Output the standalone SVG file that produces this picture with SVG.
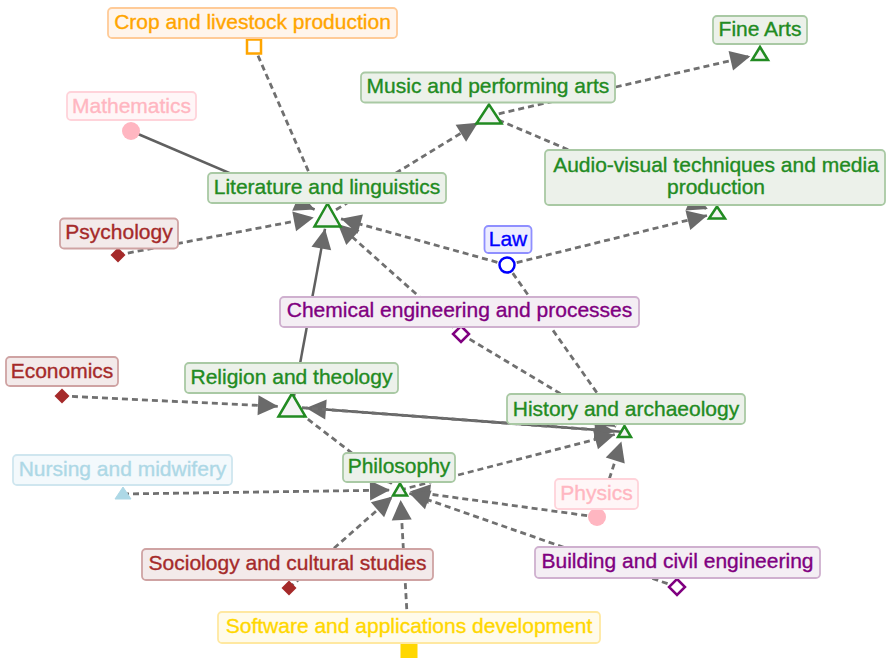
<svg xmlns="http://www.w3.org/2000/svg" width="886" height="659" viewBox="0 0 886 659">
  <defs>
    <style>
      .edge { fill: none; stroke: #707070; stroke-width: 2.8; marker-end: url(#arrow); }
      .dash { stroke-dasharray: 6 4; }
      .solid { stroke: #606060; stroke-width: 2.5; }
      .lbl { font-family: "Liberation Sans", Arial, sans-serif; font-size: 21px; text-anchor: middle; stroke-width: 0.35; }
      .box { stroke-width: 1.8; filter: url(#soft); }
      .green text { fill: #228B22; stroke: #228B22; } .green .box { fill: #ecf1ea; stroke: #a9c9a4; }
      .orange text { fill: #FFA500; stroke: #FFA500; } .orange .box { fill: #fff5ec; stroke: #ffcb98; }
      .pink text { fill: #FFB6C1; stroke: #FFB6C1; } .pink .box { fill: #fff6f7; stroke: #ffd3da; }
      .brown text { fill: #A52A2A; stroke: #A52A2A; } .brown .box { fill: #f3eaea; stroke: #cfa3a3; }
      .blue text { fill: #0000FF; stroke: #0000FF; } .blue .box { fill: #ececff; stroke: #8f8fff; }
      .purple text { fill: #800080; stroke: #800080; } .purple .box { fill: #f4eef4; stroke: #cfb0cf; }
      .lblue text { fill: #ADD8E6; stroke: #ADD8E6; } .lblue .box { fill: #f3f9fc; stroke: #cfe6ef; }
      .gold text { fill: #FFD700; stroke: #FFD700; } .gold .box { fill: #fffbea; stroke: #ffe8a0; }
      .tri { fill: #f4f4f4; stroke: #228B22; stroke-width: 2.5; stroke-linejoin: miter; }
    </style>
    <marker id="arrow" markerUnits="userSpaceOnUse" markerWidth="22" markerHeight="22" refX="20" refY="10" orient="auto" overflow="visible">
      <path d="M0,0 L20,10 L0,20 Z" fill="#6a6a6a"/>
    </marker>
    <filter id="soft" x="-10%" y="-30%" width="120%" height="160%">
      <feGaussianBlur stdDeviation="0.7"/>
    </filter>
  </defs>

  <rect width="886" height="659" fill="#ffffff"/>

  <!-- connectors -->
  <g id="connectors">
    <line class="edge dash" x1="254" y1="46.5" x2="321.9" y2="202.2"/>
    <line class="edge solid" x1="131" y1="131" x2="314.6" y2="209.5"/>
    <line class="edge dash" x1="118" y1="255" x2="313.8" y2="217.6"/>
    <line class="edge solid" x1="292" y1="407" x2="325" y2="228.8"/>
    <line class="edge dash" x1="507" y1="265" x2="341" y2="218.8"/>
    <line class="edge dash" x1="461" y1="334" x2="338" y2="224.3"/>
    <line class="edge dash" x1="327.5" y1="215" x2="477.9" y2="122.8"/>
    <line class="edge dash" x1="489" y1="116" x2="750.3" y2="56.2"/>
    <line class="edge dash" x1="489" y1="116" x2="707.8" y2="209.1"/>
    <line class="edge dash" x1="507" y1="265" x2="707.3" y2="215.4"/>
    <line class="edge dash" x1="507" y1="265" x2="618.75" y2="423.8"/>
    <line class="edge dash" x1="461" y1="334" x2="615.9" y2="426.9"/>
    <line class="edge dash" x1="62" y1="396" x2="278" y2="406.3"/>
    <line class="edge solid" x1="624.5" y1="432" x2="306" y2="408"/>
    <line class="edge dash" x1="292" y1="407" x2="614.5" y2="431.25"/>
    <line class="edge dash" x1="292" y1="407" x2="392.1" y2="483.9"/>
    <line class="edge dash" x1="123" y1="494" x2="390" y2="490.1"/>
    <line class="edge dash" x1="289" y1="588" x2="392.5" y2="496.6"/>
    <line class="edge dash" x1="409" y1="649" x2="400.6" y2="500"/>
    <line class="edge dash" x1="597" y1="517" x2="409.9" y2="491.4"/>
    <line class="edge dash" x1="677" y1="587" x2="409.4" y2="493.3"/>
    <line class="edge dash" x1="400" y1="490" x2="614.8" y2="434.5"/>
    <line class="edge dash" x1="597" y1="517" x2="621.4" y2="441.5"/>
  </g>

  <!-- nodes -->
  <g id="node-crop" class="orange">
    <rect x="247" y="39.5" width="14" height="14" style="fill:#ffffff;stroke:#FFA500;stroke-width:2.5"/>
    <rect class="box" x="108" y="8" width="289" height="30" rx="4"/>
    <text class="lbl" x="252.5" y="29">Crop and livestock production</text>
  </g>

  <g id="node-mathematics" class="pink">
    <circle cx="131" cy="131" r="9" fill="#FFB6C1"/>
    <rect class="box" x="67" y="92" width="129" height="28" rx="4"/>
    <text class="lbl" x="131.5" y="112.5">Mathematics</text>
  </g>

  <g id="node-literature" class="green">
    <polygon class="tri" points="327.5,203.5 314.5,226.5 340.5,226.5"/>
    <rect class="box" x="208" y="173" width="238" height="30" rx="4"/>
    <text class="lbl" x="327" y="193.5">Literature and linguistics</text>
  </g>

  <g id="node-psychology" class="brown">
    <polygon points="118,247.5 125.5,255 118,262.5 110.5,255" fill="#A52A2A"/>
    <rect class="box" x="60" y="218.5" width="118" height="30" rx="4"/>
    <text class="lbl" x="119" y="239">Psychology</text>
  </g>

  <g id="node-music" class="green">
    <polygon class="tri" points="489,104.5 476.5,123.5 501.5,123.5"/>
    <rect class="box" x="361" y="72.5" width="254" height="30" rx="4"/>
    <text class="lbl" x="488" y="93">Music and performing arts</text>
  </g>

  <g id="node-fine-arts" class="green">
    <polygon class="tri" points="760,47 752,60 768,60"/>
    <rect class="box" x="713" y="16" width="94" height="28" rx="4"/>
    <text class="lbl" x="760" y="35.5">Fine Arts</text>
  </g>

  <g id="node-audio-visual" class="green">
    <polygon class="tri" points="717,206.5 709,218.5 725,218.5"/>
    <rect class="box" x="545" y="150" width="340" height="55" rx="4"/>
    <text class="lbl" x="716" y="171.5">Audio-visual techniques and media</text>
    <text class="lbl" x="716" y="194">production</text>
  </g>

  <g id="node-law" class="blue">
    <circle cx="507" cy="265" r="7.5" fill="#ffffff" stroke="#0000FF" stroke-width="2.5"/>
    <rect class="box" x="484.5" y="226" width="47" height="27" rx="4"/>
    <text class="lbl" x="508" y="245.5">Law</text>
  </g>

  <g id="node-chemical" class="purple">
    <polygon points="461,326 469,334 461,342 453,334" fill="#ffffff" stroke="#800080" stroke-width="2.5"/>
    <rect class="box" x="280" y="297" width="359" height="30" rx="4"/>
    <text class="lbl" x="459.5" y="317">Chemical engineering and processes</text>
  </g>

  <g id="node-economics" class="brown">
    <polygon points="62,388.5 69.5,396 62,403.5 54.5,396" fill="#A52A2A"/>
    <rect class="box" x="6" y="357" width="112" height="29" rx="4"/>
    <text class="lbl" x="62" y="378">Economics</text>
  </g>

  <g id="node-religion" class="green">
    <polygon class="tri" points="292,393.5 278.5,416.5 305.5,416.5"/>
    <rect class="box" x="185" y="363" width="213" height="30" rx="4"/>
    <text class="lbl" x="291.5" y="383.5">Religion and theology</text>
  </g>

  <g id="node-history" class="green">
    <polygon class="tri" points="624.5,426 618,437 631,437"/>
    <rect class="box" x="507" y="394" width="238" height="30" rx="4"/>
    <text class="lbl" x="626" y="415.5">History and archaeology</text>
  </g>

  <g id="node-nursing" class="lblue">
    <polygon points="123,487 115,499 131,499" fill="#ADD8E6" stroke="#ADD8E6" stroke-width="1" stroke-linejoin="round"/>
    <rect class="box" x="13" y="455" width="219" height="30" rx="4"/>
    <text class="lbl" x="122.5" y="475.5">Nursing and midwifery</text>
  </g>

  <g id="node-philosophy" class="green">
    <polygon class="tri" points="400,483.5 393,495.5 407,495.5"/>
    <rect class="box" x="343" y="453" width="112" height="29" rx="4"/>
    <text class="lbl" x="399" y="473">Philosophy</text>
  </g>

  <g id="node-physics" class="pink">
    <circle cx="597" cy="517" r="9" fill="#FFB6C1"/>
    <rect class="box" x="555" y="479" width="83" height="30" rx="4"/>
    <text class="lbl" x="596.5" y="499.5">Physics</text>
  </g>

  <g id="node-sociology" class="brown">
    <polygon points="289,580.5 296.5,588 289,595.5 281.5,588" fill="#A52A2A"/>
    <rect class="box" x="142" y="549" width="291" height="31" rx="4"/>
    <text class="lbl" x="287.5" y="570">Sociology and cultural studies</text>
  </g>

  <g id="node-building" class="purple">
    <polygon points="677,579 685,587 677,595 669,587" fill="#ffffff" stroke="#800080" stroke-width="2.5"/>
    <rect class="box" x="535" y="547" width="285" height="31" rx="4"/>
    <text class="lbl" x="677.5" y="568">Building and civil engineering</text>
  </g>

  <g id="node-software" class="gold">
    <rect x="400.5" y="641" width="17" height="17" style="fill:#FFD700;stroke:none"/>
    <rect class="box" x="218" y="612" width="382" height="31" rx="4"/>
    <text class="lbl" x="409" y="633">Software and applications development</text>
  </g>
</svg>
